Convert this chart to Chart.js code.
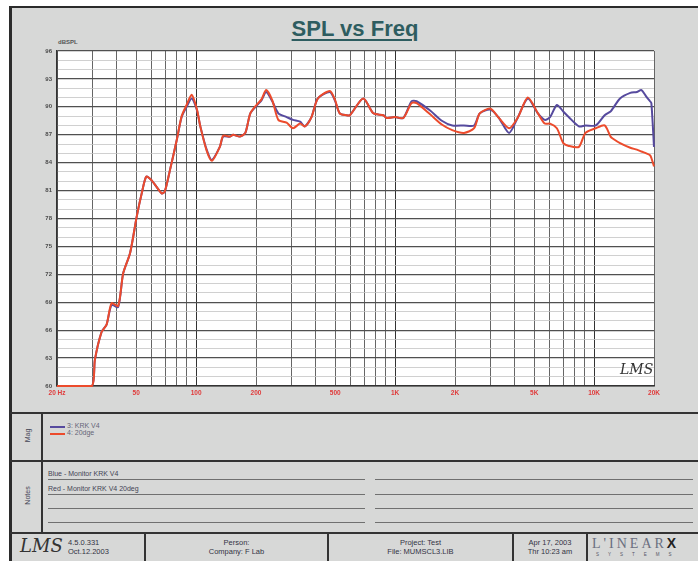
<!DOCTYPE html>
<html>
<head>
<meta charset="utf-8">
<title>SPL vs Freq</title>
<script src="https://cdn.jsdelivr.net/npm/chart.js@4.4.0/dist/chart.umd.min.js"></script>
<style>
  body { margin: 0; width: 698px; height: 561px; background: #fff; overflow: hidden;
         font-family: "Liberation Sans", Arial, sans-serif; position: relative; }
  .abs { position: absolute; }
  #frame { left: 9px; top: 6px; width: 689px; height: 555px; background: #d7d8d7;
           border-left: 3px solid #2b2b2b; border-top: 2px solid #2b2b2b; box-sizing: border-box; }
  #title { left: 255px; top: 16px; width: 200px; text-align: center; font-size: 22px; font-weight: bold;
           color: #2e5d60; text-decoration: underline; text-underline-offset: 3px; text-decoration-thickness: 2px; }
  #wrap { left: 10px; top: 40px; width: 680px; height: 370px; }
  .hline { height: 2px; background: #333; }
  .vline { width: 2px; background: #333; }
  .thin { height: 1px; background: #707070; }
  .small { font-size: 7px; color: #445; white-space: nowrap; }
  .vert { transform: rotate(-90deg); transform-origin: center; font-size: 7px; color: #445; }
  .foot { font-size: 7.5px; color: #334; text-align: center; line-height: 9px; white-space: nowrap; }
  .sig { font-family: "DejaVu Serif", serif; font-style: italic; color: #333; }
</style>
</head>
<body>
<div id="frame" class="abs"></div>
<div id="title" class="abs">SPL vs Freq</div>
<div class="abs small" style="left:58px;top:39px;font-size:6px;font-weight:bold;color:#555;">dBSPL</div>
<div id="wrap" class="abs"><canvas id="chart" width="680" height="370"></canvas></div>
<div class="abs sig" style="left:620px;top:361px;font-size:14px;">LMS</div>

<!-- Mag / Notes / footer boxes -->
<div class="abs hline" style="left:10px;top:412px;width:688px;"></div>
<div class="abs hline" style="left:10px;top:460px;width:688px;"></div>
<div class="abs hline" style="left:10px;top:532px;width:688px;"></div>
<div class="abs vline" style="left:41px;top:412px;height:121px;"></div>
<div class="abs vert" style="left:14px;top:432px;width:26px;text-align:center;">Mag</div>
<div class="abs vert" style="left:14px;top:492px;width:26px;text-align:center;">Notes</div>

<div class="abs" style="left:50px;top:426px;width:15px;height:2px;background:#564a9e;"></div>
<div class="abs small" style="left:67px;top:422px;color:#667;">3: KRK V4</div>
<div class="abs" style="left:50px;top:433px;width:15px;height:2px;background:#ec4b2c;"></div>
<div class="abs small" style="left:67px;top:429px;color:#667;">4: 20dge</div>

<div class="abs small" style="left:48px;top:470px;">Blue - Monitor KRK V4</div>
<div class="abs small" style="left:48px;top:485px;">Red - Monitor KRK V4 20deg</div>
<div class="abs thin" style="left:48px;top:479px;width:317px;"></div>
<div class="abs thin" style="left:48px;top:494px;width:317px;"></div>
<div class="abs thin" style="left:48px;top:508px;width:317px;"></div>
<div class="abs thin" style="left:48px;top:522px;width:317px;"></div>
<div class="abs thin" style="left:375px;top:479px;width:318px;"></div>
<div class="abs thin" style="left:375px;top:494px;width:318px;"></div>
<div class="abs thin" style="left:375px;top:508px;width:318px;"></div>
<div class="abs thin" style="left:375px;top:522px;width:318px;"></div>

<div class="abs vline" style="left:144px;top:533px;height:28px;"></div>
<div class="abs vline" style="left:327px;top:533px;height:28px;"></div>
<div class="abs vline" style="left:512px;top:533px;height:28px;"></div>
<div class="abs vline" style="left:586px;top:533px;height:28px;"></div>
<div class="abs sig" style="left:20px;top:535px;font-size:18px;">LMS</div>
<div class="abs foot" style="left:68px;top:538px;text-align:left;">4.5.0.331<br>Oct.12.2003</div>
<div class="abs foot" style="left:146px;top:538px;width:181px;">Person:<br>Company: F Lab</div>
<div class="abs foot" style="left:329px;top:538px;width:183px;">Project: Test<br>File: MUMSCL3.LIB</div>
<div class="abs foot" style="left:514px;top:538px;width:72px;">Apr 17, 2003<br>Thr 10:23 am</div>
<div class="abs" style="left:592px;top:535px;font-family:'Liberation Serif',serif;font-size:14px;letter-spacing:3px;color:#6a6f80;white-space:nowrap;">L'INEAR<b style="color:#222;font-family:'Liberation Sans',sans-serif;">X</b></div>
<div class="abs" style="left:596px;top:552px;font-size:4.5px;letter-spacing:9px;color:#556;white-space:nowrap;">SYSTEMS</div>

<script>
// frequency points (Hz)
const freqs = [20, 25, 30, 31, 33.5, 35.5, 37.6, 40.6, 43, 46.6, 50.3, 53.3, 56.2, 59.8, 67.2, 69.6,
  73.9, 79.9, 84.6, 89.6, 95, 100.8, 105, 113, 120, 131.6, 136.8, 148, 153.5, 166, 176.8, 187.3,
  203, 213, 225, 241.5, 259, 285, 307, 333, 352, 380, 409, 470, 498, 527, 570, 593, 692, 778,
  873, 907, 1000, 1099, 1210, 1282, 1500, 1717, 1937, 2218, 2496, 2663, 3012, 3325, 3741, 4126,
  4643, 5221, 5648, 6010, 6500, 7000, 7454, 8388, 9050, 10200, 11300, 12100, 12400, 13500,
  15200, 16400, 17300, 18300, 19100, 19400, 20000];

// 3: KRK V4 (blue/purple)
const krkV4 = [60, 60, 60, 62.8, 65.8, 66.6, 68.7, 68.5, 72.1, 74.3, 78.2, 80.7, 82.5, 82.1, 80.7, 80.9,
  83.2, 86.4, 88.9, 90.0, 90.9, 89.7, 87.9, 85.4, 84.3, 85.7, 86.8, 86.8, 87.0, 86.8, 87.2, 89.3,
  90.2, 90.7, 91.6, 90.6, 89.3, 88.9, 88.6, 88.4, 87.9, 88.9, 90.9, 91.6, 90.7, 89.3, 89.1, 89.1, 90.9, 89.3,
  89.1, 88.8, 88.9, 88.8, 90.6, 90.6, 89.6, 88.5, 88.0, 88.0, 88.0, 89.3, 89.7, 88.8, 87.2, 88.8,
  90.9, 89.3, 88.6, 88.9, 90.2, 89.5, 88.9, 87.9, 88.0, 88.0, 89.1, 89.5, 89.8, 90.9,
  91.5, 91.6, 91.8, 91.1, 90.6, 90.4, 85.7];

// 4: 20dge (orange/red)
const deg20 = [60, 60, 60, 62.8, 65.8, 66.6, 68.9, 68.6, 72.1, 74.3, 78.2, 80.7, 82.5, 82.1, 80.7, 80.9,
  83.2, 86.4, 89.0, 90.2, 91.3, 89.8, 87.9, 85.3, 84.2, 85.7, 86.9, 86.8, 87.0, 86.8, 87.2, 89.3,
  90.3, 90.8, 91.8, 90.7, 88.6, 88.3, 87.7, 88.2, 87.9, 88.9, 90.9, 91.7, 90.8, 89.3, 89.1, 89.1, 90.9, 89.3,
  89.1, 88.8, 88.9, 88.8, 90.4, 90.4, 89.2, 88.1, 87.5, 87.2, 87.7, 89.3, 89.8, 88.8, 87.7, 88.8,
  91.0, 89.3, 88.2, 88.2, 87.7, 86.1, 85.8, 85.7, 87.2, 87.7, 88.0, 86.8, 86.6, 86.1,
  85.6, 85.4, 85.2, 85.0, 84.8, 84.5, 83.6];

// axis grid and label values
const xGrid = [20, 30, 40, 50, 60, 70, 80, 90, 100, 200, 300, 400, 500, 600, 700, 800, 900,
  1000, 2000, 3000, 4000, 5000, 6000, 7000, 8000, 9000, 10000, 20000];
const xLabelValues = [20, 50, 100, 200, 500, 1000, 2000, 5000, 10000, 20000];
const xLabelText = ['20 Hz', '50', '100', '200', '500', '1K', '2K', '5K', '10K', '20K'];
const yLabelValues = [60, 63, 66, 69, 72, 75, 78, 81, 84, 87, 90, 93, 96];

const plotBg = {
  id: 'plotBg',
  beforeDraw(chart) {
    const { ctx, chartArea: a } = chart;
    ctx.save();
    ctx.fillStyle = '#ffffff';
    ctx.fillRect(a.left, a.top, a.right - a.left, a.bottom - a.top);
    ctx.restore();
  }
};

new Chart(document.getElementById('chart'), {
  type: 'line',
  data: {
    datasets: [
      {
        label: '4: 20dge',
        data: freqs.map((f, i) => ({ x: f, y: deg20[i] })),
        borderColor: '#ec4b2c',
        borderWidth: 2,
        pointRadius: 0,
        tension: 0.25,
        clip: 3
      },
      {
        label: '3: KRK V4',
        data: freqs.map((f, i) => ({ x: f, y: krkV4[i] })),
        borderColor: '#564a9e',
        borderWidth: 2,
        pointRadius: 0,
        tension: 0.25,
        clip: 3
      }
    ]
  },
  options: {
    responsive: false,
    animation: false,
    maintainAspectRatio: false,
    layout: { padding: { top: 11, right: 36, left: 0, bottom: 0 } },
    plugins: { legend: { display: false }, tooltip: { enabled: false } },
    scales: {
      x: {
        type: 'logarithmic',
        min: 20,
        max: 20000,
        afterBuildTicks: (scale) => { scale.ticks = xGrid.map((v) => ({ value: v })); },
        afterFit: (scale) => { scale.height = 24; },
        ticks: {
          autoSkip: false,
          maxRotation: 0,
          padding: 3,
          color: '#e03a3a',
          font: { size: 6.5, weight: 'bold', family: 'Liberation Sans' },
          callback: (v) => {
            const i = xLabelValues.indexOf(v);
            return i >= 0 ? xLabelText[i] : '';
          }
        },
        grid: {
          drawTicks: false,
          color: (c) => ([100, 1000, 10000].includes(c.tick && c.tick.value) ? '#333' : '#666'),
          lineWidth: 1
        },
        border: { color: '#333', width: 1.5 }
      },
      y: {
        min: 60,
        max: 96,
        afterFit: (scale) => { scale.width = 47; },
        ticks: {
          stepSize: 1,
          autoSkip: false,
          padding: 5,
          color: '#4a4a4a',
          font: { size: 6, weight: 'bold', family: 'Liberation Sans' },
          callback: (v) => (yLabelValues.includes(v) ? String(v) : '')
        },
        grid: {
          drawTicks: false,
          color: (c) => (yLabelValues.includes(c.tick && c.tick.value) ? '#505050' : '#c4c4c4'),
          lineWidth: (c) => (yLabelValues.includes(c.tick && c.tick.value) ? 1.2 : 0.8)
        },
        border: { color: '#333', width: 1.5 }
      }
    }
  },
  plugins: [plotBg]
});
</script>
</body>
</html>
